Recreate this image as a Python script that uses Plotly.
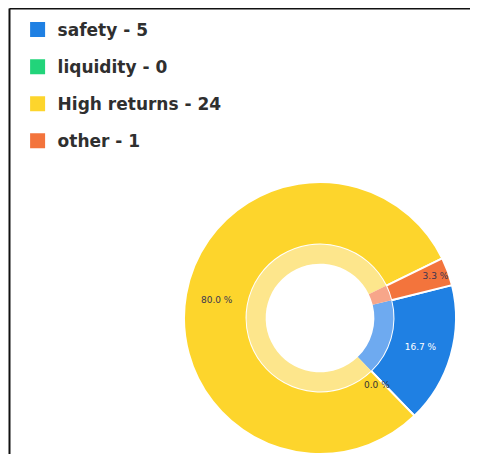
import math
import plotly.graph_objects as go

categories = ["safety", "liquidity", "High returns", "other"]
values = [5, 0, 24, 1]
colors = ["#1f80e3", "#22d47a", "#fdd52c", "#f3743c"]
light_colors = ["#6eaaf0", "#7ee8b0", "#fde68c", "#f7a68a"]

total = sum(values)
pct_text = [f"{v / total * 100:.1f} %" for v in values]
text_colors = ["#ffffff", "#333333", "#3a3550", "#3a3550"]

# page body has an 8px margin, so the figure is drawn 8px in from the window corner
OFF = 8
W, H = 462, 446
cx, cy, r = 320 - OFF, 318 - OFF, 136
ROT = 76
dom_x = [max(0, (cx - r) / W), min(1, (cx + r) / W)]
dom_y = [max(0, 1 - (cy + r) / H), min(1, 1 - (cy - r) / H)]
ri = r * 0.54
dom_xi = [(cx - ri) / W, (cx + ri) / W]
dom_yi = [1 - (cy + ri) / H, 1 - (cy - ri) / H]

fig = go.Figure()

fig.add_trace(go.Pie(
    labels=categories, values=values, sort=False, direction="clockwise",
    rotation=ROT, hole=0.54, domain=dict(x=dom_x, y=dom_y),
    marker=dict(colors=colors, line=dict(color="white", width=2)),
    text=[t if v > 0 else "" for t, v in zip(pct_text, values)],
    textinfo="text", textposition="inside",
    insidetextorientation="horizontal",
    textfont=dict(size=9, color=text_colors, family="DejaVu Sans"),
    showlegend=False, hoverinfo="label+value",
))
fig.add_trace(go.Pie(
    labels=categories, values=values, sort=False, direction="clockwise",
    rotation=ROT, hole=0.74, domain=dict(x=dom_xi, y=dom_yi),
    marker=dict(colors=light_colors, line=dict(color="white", width=0)),
    textinfo="none", showlegend=False, hoverinfo="skip",
))

# labels for zero-size slices sit on the slice boundary
annotations = []
cum = 0
for v, t, tc in zip(values, pct_text, text_colors):
    if v == 0:
        ang = math.radians(90 - ROT - 360 * cum / total)
        rt = r * 0.76
        px = cx + rt * math.cos(ang)
        py = cy - rt * math.sin(ang)
        annotations.append(dict(
            x=px / W, y=1 - py / H, xref="paper", yref="paper",
            text=t, showarrow=False,
            font=dict(size=9, color=tc, family="DejaVu Sans"),
        ))
    cum += v

for i, (cat, v) in enumerate(zip(categories, values)):
    fig.add_trace(go.Scatter(
        x=[None], y=[None], mode="markers", name=f"{cat} - {v}",
        legendgroup=f"g{i}",
        marker=dict(symbol="square", size=15, color=colors[i]),
    ))

fig.update_layout(
    width=W, height=H,
    margin=dict(l=0, r=0, t=0, b=0),
    paper_bgcolor="white", plot_bgcolor="white",
    xaxis=dict(visible=False), yaxis=dict(visible=False),
    uniformtext=dict(minsize=9, mode="show"),
    annotations=annotations,
    legend=dict(
        x=9.6 / W, y=1 - 4 / H, xanchor="left", yanchor="top",
        font=dict(size=17, color="#2f2f2f", family="DejaVu Sans", weight=600),
        tracegroupgap=12, bgcolor="rgba(0,0,0,0)",
    ),
    shapes=[
        dict(type="line", xref="paper", yref="paper",
             x0=1.5 / W, x1=1.0, y0=1 - 0.5 / H, y1=1 - 0.5 / H,
             line=dict(color="#111111", width=2)),
        dict(type="line", xref="paper", yref="paper",
             x0=1.5 / W, x1=1.5 / W, y0=0, y1=1 - 0.5 / H,
             line=dict(color="#111111", width=2)),
    ],
)

fig.write_html("out.html")
